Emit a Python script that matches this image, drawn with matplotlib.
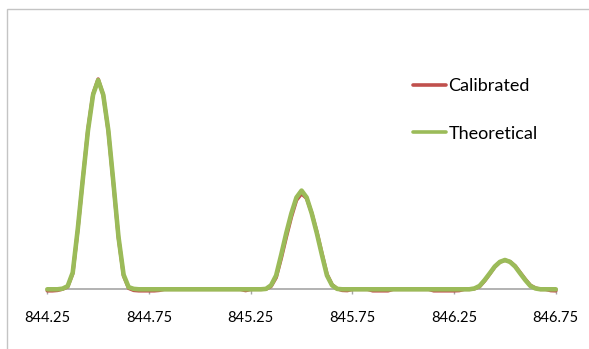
import matplotlib
matplotlib.use("Agg")
import matplotlib.pyplot as plt
from matplotlib.patches import Rectangle

# m/z grid, 0.025 spacing from 844.25 to 846.75
mz = [
    844.250, 844.275, 844.300, 844.325, 844.350, 844.375, 844.400, 844.425, 844.450, 844.475,
    844.500, 844.525, 844.550, 844.575, 844.600, 844.625, 844.650, 844.675, 844.700, 844.725,
    844.750, 844.775, 844.800, 844.825, 844.850, 844.875, 844.900, 844.925, 844.950, 844.975,
    845.000, 845.025, 845.050, 845.075, 845.100, 845.125, 845.150, 845.175, 845.200, 845.225,
    845.250, 845.275, 845.300, 845.325, 845.350, 845.375, 845.400, 845.425, 845.450, 845.475,
    845.500, 845.525, 845.550, 845.575, 845.600, 845.625, 845.650, 845.675, 845.700, 845.725,
    845.750, 845.775, 845.800, 845.825, 845.850, 845.875, 845.900, 845.925, 845.950, 845.975,
    846.000, 846.025, 846.050, 846.075, 846.100, 846.125, 846.150, 846.175, 846.200, 846.225,
    846.250, 846.275, 846.300, 846.325, 846.350, 846.375, 846.400, 846.425, 846.450, 846.475,
    846.500, 846.525, 846.550, 846.575, 846.600, 846.625, 846.650, 846.675, 846.700, 846.725,
    846.750,
]

theoretical = [
    0, 0, 0, 0.3, 1.5, 8, 29, 53, 76, 93,
    100, 93, 76, 51, 25, 7, 1, 0.2, 0, 0,
    0, 0, 0, 0, 0, 0, 0, 0, 0, 0,
    0, 0, 0, 0, 0, 0, 0, 0, 0, 0,
    0, 0, 0, 0.2, 1.9, 6.6, 16.5, 26.9, 36.3, 43.9,
    47.2, 43.9, 36.3, 26.9, 16.5, 6.6, 1.9, 0.2, 0, 0,
    0, 0, 0, 0, 0, 0, 0, 0, 0, 0,
    0, 0, 0, 0, 0, 0, 0, 0, 0, 0,
    0, 0, 0, 0, 0.4, 1.6, 4.4, 7.6, 10.9, 13.1,
    14.0, 13.1, 10.9, 7.6, 4.4, 1.6, 0.4, 0, 0, 0,
    0,
]

calibrated = [
    -0.7, -0.7, -0.5, 0.1, 1.2, 7.5, 28.5, 53, 76.5, 93.5,
    100.5, 93, 75.5, 50.5, 24.5, 6.5, 0.5, -0.5, -0.7, -0.7,
    -0.7, -0.7, -0.5, 0, 0, 0, 0, 0, 0, 0,
    0, 0, 0, 0, 0, 0, 0, 0, 0, -0.6,
    0, 0, 0, 0.1, 1.4, 5.6, 14.8, 25.0, 34.6, 42.6,
    45.7, 43.5, 36.5, 27.5, 17.2, 7.2, 2.2, 0.3, -0.5, -0.6,
    0, 0, 0, 0, -0.7, -0.7, -0.7, -0.7, 0, 0,
    0, 0, 0, 0, 0, 0, -0.7, -0.7, -0.7, -0.7,
    -0.7, -0.6, 0, 0, 0.3, 1.3, 4.0, 7.3, 10.7, 13.0,
    13.9, 13.2, 11.2, 8.0, 4.8, 1.9, 0.6, 0, 0, -0.6,
    -0.7,
]

tick_pos = [844.25, 844.75, 845.25, 845.75, 846.25, 846.75]

plt.rcParams["font.family"] = ["Lato", "DejaVu Sans"]

fig = plt.figure(figsize=(5.89, 3.49), dpi=100)
fig.patches.append(Rectangle((7 / 589, -0.1), 1.2, 1 - 9 / 349 + 0.1,
                             transform=fig.transFigure, fill=False,
                             edgecolor="#c4c4c4", lw=1.0))

ax = fig.add_axes([47.3 / 589, 59.7 / 349, 508.5 / 589, 251 / 349])
ax.plot(mz, calibrated, color="#C0504D", lw=2.6, label="Calibrated",
        zorder=3, clip_on=False, solid_joinstyle="round", solid_capstyle="round")
ax.plot(mz, theoretical, color="#9BBB59", lw=3.3, label="Theoretical",
        zorder=4, clip_on=False, solid_joinstyle="round", solid_capstyle="round")

ax.set_xlim(844.25, 846.75)
ax.set_ylim(0, 120)
ax.set_xticks(tick_pos)
ax.set_xticklabels([f"{t:.2f}" for t in tick_pos])
ax.set_yticks([])
for sp in ("top", "right", "left"):
    ax.spines[sp].set_visible(False)
ax.spines["bottom"].set_color("#a6a6a6")
ax.spines["bottom"].set_linewidth(1.2)
ax.tick_params(axis="x", direction="out", length=3.5, width=1.0,
               color="#a6a6a6", pad=12, labelsize=10.5, labelcolor="#000000")
ax.patch.set_alpha(0)

leg = ax.legend(loc="upper left", bbox_to_anchor=(413 / 589, (349 - 78) / 349),
                bbox_transform=fig.transFigure, frameon=False, fontsize=13,
                handlelength=1.85, handletextpad=0.12, labelspacing=1.75,
                borderpad=0, borderaxespad=0)
for line in leg.get_lines():
    line.set_linewidth(2.6)

fig.savefig("out.png", dpi=100)
